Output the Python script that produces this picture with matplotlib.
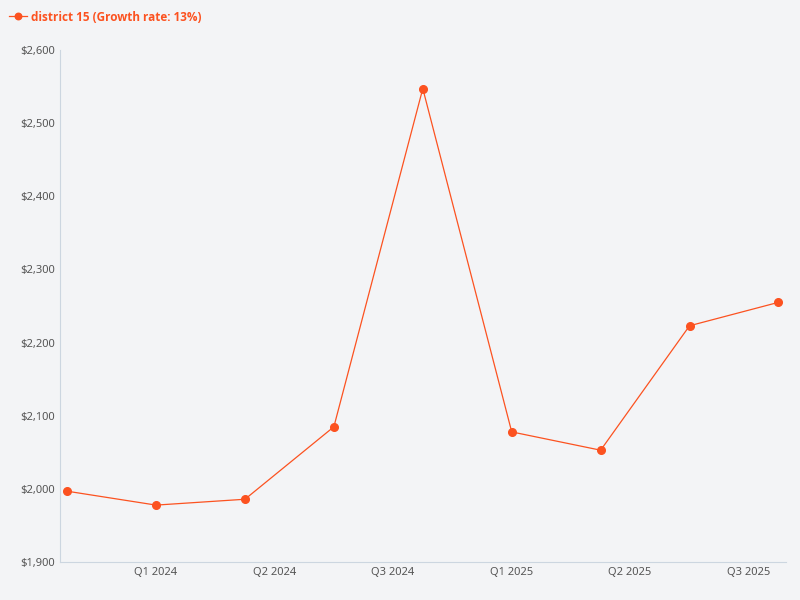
import matplotlib
matplotlib.use('Agg')
import matplotlib.pyplot as plt
from matplotlib.ticker import FuncFormatter

values = [1997, 1978, 1986, 2085, 2547, 2078, 2053, 2223, 2255]
tick_pos = [1, 2.33, 3.66, 5, 6.33, 7.66]
tick_labels = ["Q1 2024", "Q2 2024", "Q3 2024", "Q1 2025", "Q2 2025", "Q3 2025"]
series_name = "district 15 (Growth rate: 13%)"

color = "#fc5220"
bg = "#f3f4f6"
plt.rcParams['font.family'] = ['Noto Sans', 'DejaVu Sans']

fig = plt.figure(figsize=(8, 6), dpi=100, facecolor=bg)
ax = fig.add_axes([0.075, 0.063, 0.907, 0.854], facecolor=bg)
ax.plot(range(len(values)), values, color=color, lw=0.9, marker='o', ms=5.5, label=series_name)
ax.set_xlim(-0.08, 8.08)
ax.set_ylim(1900, 2600)
ax.set_yticks(range(1900, 2601, 100))
ax.yaxis.set_major_formatter(FuncFormatter(lambda v, p: f"${v:,.0f}"))
ax.set_xticks(tick_pos)
ax.set_xticklabels(tick_labels)
ax.tick_params(colors="#555555", labelsize=8, length=0)
for s in ["top", "right"]:
    ax.spines[s].set_visible(False)
for s in ["left", "bottom"]:
    ax.spines[s].set_color("#ccd6e0")
leg = fig.legend(loc="upper left", bbox_to_anchor=(-0.002, 1.0), frameon=False,
                 prop={'family': ['Open Sans', 'DejaVu Sans'], 'weight': 'bold', 'size': 8.5},
                 handlelength=1.5, handletextpad=0.4, markerscale=0.85)
for t in leg.get_texts():
    t.set_color(color)
fig.savefig("out.png", dpi=100, facecolor=bg)
